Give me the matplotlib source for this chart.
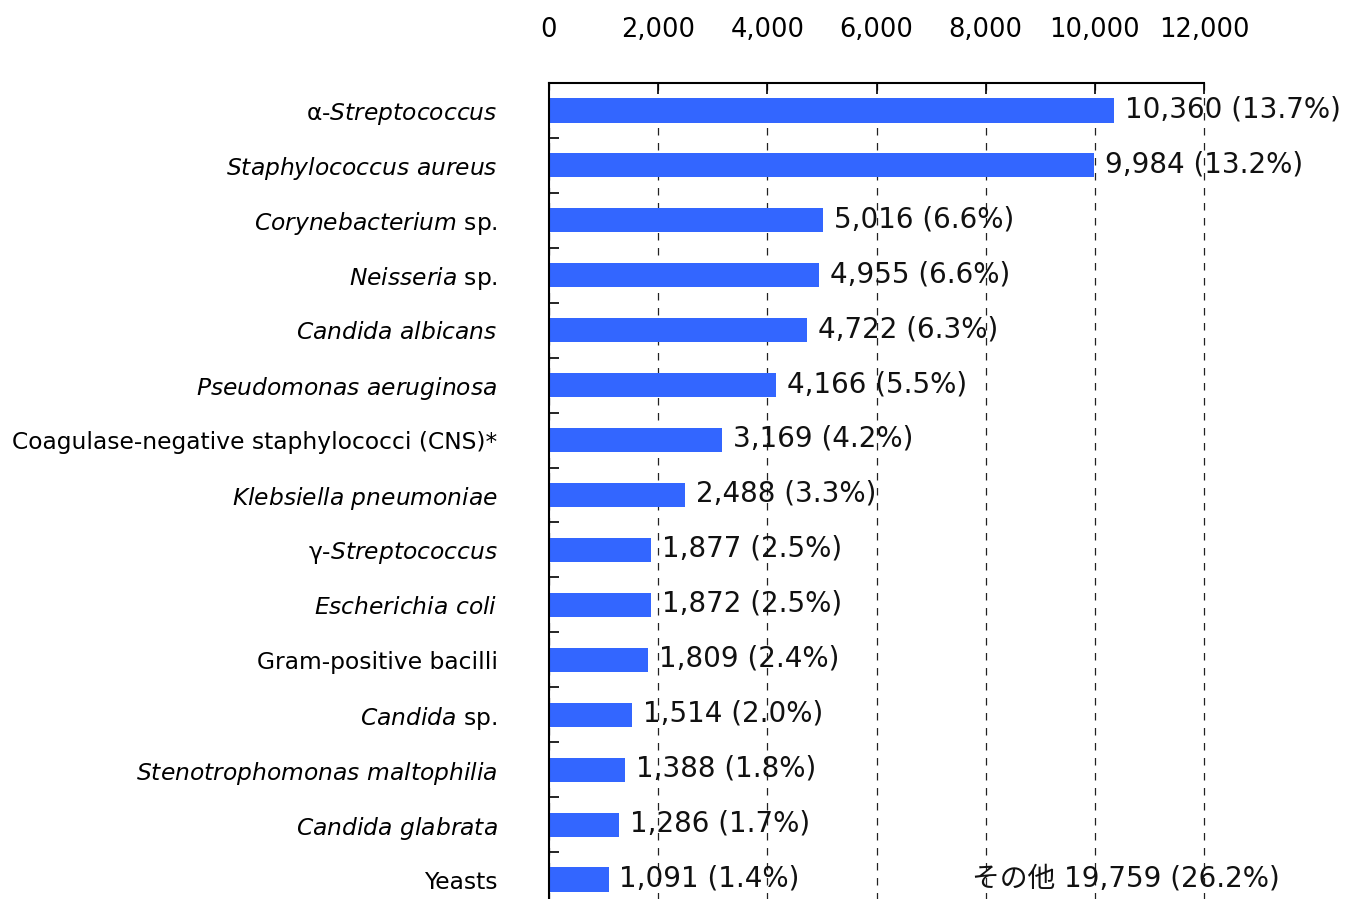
import matplotlib.pyplot as plt
import numpy as np

# Data
names = [
    r"α-$\mathit{Streptococcus}$",
    r"$\mathit{Staphylococcus\ aureus}$",
    r"$\mathit{Corynebacterium}$ sp.",
    r"$\mathit{Neisseria}$ sp.",
    r"$\mathit{Candida\ albicans}$",
    r"$\mathit{Pseudomonas\ aeruginosa}$",
    "Coagulase-negative staphylococci (CNS)*",
    r"$\mathit{Klebsiella\ pneumoniae}$",
    r"γ-$\mathit{Streptococcus}$",
    r"$\mathit{Escherichia\ coli}$",
    "Gram-positive bacilli",
    r"$\mathit{Candida}$ sp.",
    r"$\mathit{Stenotrophomonas\ maltophilia}$",
    r"$\mathit{Candida\ glabrata}$",
    "Yeasts",
]
counts = [10360, 9984, 5016, 4955, 4722, 4166, 3169, 2488, 1877, 1872, 1809, 1514, 1388, 1286, 1091]
pcts = [13.7, 13.2, 6.6, 6.6, 6.3, 5.5, 4.2, 3.3, 2.5, 2.5, 2.4, 2.0, 1.8, 1.7, 1.4]
other_count = 19759
other_pct = 26.2
xticks = [0, 2000, 4000, 6000, 8000, 10000, 12000]

plt.rcParams['font.family'] = ['DejaVu Sans', 'Noto Sans CJK JP']
plt.rcParams['mathtext.fontset'] = 'dejavusans'

fig = plt.figure(figsize=(13.52, 8.99), dpi=100)
ax = fig.add_axes([549 / 1352, -8 / 899, 655 / 1352, 824 / 899])

y = np.arange(len(names))
ax.barh(y, counts, height=0.44, color='#3366ff', zorder=2)

# value labels
for yi, c, p in zip(y, counts, pcts):
    ax.text(c + 200, yi - 0.02, f"{c:,} ({p:.1f}%)", va='center', ha='left',
            fontsize=20, color='#111111', zorder=3)

ax.text(7750, len(names) - 1 - 0.02, f"その他 {other_count:,} ({other_pct:.1f}%)",
        va='center', ha='left', fontsize=20, color='#111111')

ax.set_xlim(0, 12000)
ax.set_ylim(len(names) - 0.5, -0.5)

# x axis on top
ax.xaxis.tick_top()
ax.set_xticks(xticks)
ax.set_xticklabels([f"{v:,}" for v in xticks], fontsize=18.5)
ax.tick_params(axis='x', which='major', direction='in', length=8, width=1.2, pad=29)
ax.grid(axis='x', linestyle=(0, (6, 6)), color='#222222', linewidth=0.9)
ax.set_axisbelow(True)
for gl in ax.get_xgridlines():
    gl.set_clip_on(False)

# y axis
ax.set_yticks(y)
ax.set_yticklabels(names, fontsize=16.8)
ax.tick_params(axis='y', which='major', length=0, pad=37)
ax.set_yticks(np.arange(len(names)) + 0.5, minor=True)
ax.tick_params(axis='y', which='minor', direction='in', length=7, width=1.2)

for s in ['right', 'bottom']:
    ax.spines[s].set_visible(False)
for s in ['top', 'left']:
    ax.spines[s].set_linewidth(1.5)

fig.savefig('out.png', dpi=100)
